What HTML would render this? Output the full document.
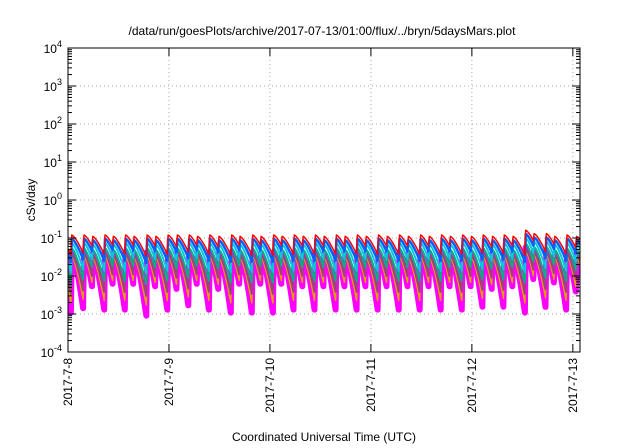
<!DOCTYPE html>
<html><head><meta charset="utf-8"><style>
html,body{margin:0;padding:0;background:#fff;}
svg{display:block;font-family:"Liberation Sans",sans-serif;}
</style></head><body>
<svg id="chart" width="640" height="448" viewBox="0 0 640 448" xmlns="http://www.w3.org/2000/svg">
<text x="322" y="35" font-size="12" text-anchor="middle">/data/run/goesPlots/archive/2017-07-13/01:00/flux/../bryn/5daysMars.plot</text>
<text x="324" y="441" font-size="12" text-anchor="middle">Coordinated Universal Time (UTC)</text>
<text transform="translate(35,200) rotate(-90)" font-size="12" text-anchor="middle">cSv/day</text>
<g id="grid"></g>
<g id="series"></g>
<g id="axes"></g>
</svg>
<script>
const yTickExps = [-4,-3,-2,-1,0,1,2,3,4];
const xTickLabels = ["2017-7-8","2017-7-9","2017-7-10","2017-7-11","2017-7-12","2017-7-13"];
const xTickHours = [0,24,48,72,96,120];
const peakHours = [-2.1,0.9,3.8,5.9,8.8,10.8,13.7,15.7,18.8,20.9,23.8,26.0,28.8,30.8,33.7,35.9,38.9,40.9,43.9,45.9,48.9,50.9,53.8,55.9,58.8,60.9,63.8,65.9,68.8,70.9,73.8,75.9,78.8,80.9,83.8,85.9,88.8,90.9,93.8,95.9,98.7,100.9,103.7,105.8,108.8,110.8,113.7,115.7,118.6,120.9];
const redPeaks = [0.11,0.12,0.12,0.11,0.12,0.11,0.12,0.11,0.12,0.11,0.12,0.12,0.12,0.11,0.12,0.11,0.12,0.11,0.12,0.11,0.12,0.11,0.12,0.11,0.12,0.11,0.12,0.11,0.12,0.11,0.12,0.11,0.12,0.11,0.12,0.11,0.12,0.11,0.12,0.11,0.12,0.11,0.12,0.11,0.16,0.13,0.13,0.11,0.12,0.11];
const seriesNames = ["red","blue","cyan","green","purple","orange","magenta"];
const seriesColors = ["#ff0000","#0060ff","#00c8e0","#00b080","#a04080","#e0a000","#ff00ff"];
const seriesWidths = [1.5,2.5,2,2,2,1.5,6];
const seriesScale = [1.0,0.8,0.62,0.45,0.33,0.28,0.36];
const seriesDecay = [0.27,0.31,0.40,0.47,0.56,0.65,0.85];
const yMin=-4,yMax=4,tMin=0,tMax=121.7;
const L=68,R=580,T=48,B=352;
const NS="http://www.w3.org/2000/svg";
function xs(h){return L+(h-tMin)/(tMax-tMin)*(R-L);}
function ys(v){return B-(Math.log10(v)-yMin)/(yMax-yMin)*(B-T);}
function mk(tag,attrs,parent){const e=document.createElementNS(NS,tag);for(const k in attrs)e.setAttribute(k,attrs[k]);parent.appendChild(e);return e;}
const grid=document.getElementById('grid'),axes=document.getElementById('axes'),sg=document.getElementById('series');
yTickExps.forEach(function(ex){
  const y=ys(Math.pow(10,ex));
  if(ex>yMin&&ex<yMax){const g=mk('line',{x1:L,x2:R,y1:y,y2:y,stroke:'#aaa','stroke-width':1,'stroke-dasharray':'1,3'},grid);
  
  }
  const t1=mk('line',{x1:L,x2:L+8,y1:y,y2:y,stroke:'#000'},axes);
  
  
  const t2=mk('line',{x1:R-8,x2:R,y1:y,y2:y,stroke:'#000'},axes);
  
  
  if(ex<yMax){for(let m=2;m<10;m++){const ym=ys(m*Math.pow(10,ex));
    mk('line',{x1:L,x2:L+4,y1:ym,y2:ym,stroke:'#000'},axes);
    mk('line',{x1:R-4,x2:R,y1:ym,y2:ym,stroke:'#000'},axes);}}
  const tx=mk('text',{x:L-6,y:y+5,'font-size':12,'text-anchor':'end'},axes);
  
  
  const base=mk('tspan',{},tx);
  base.textContent='10';
  const sp=mk('tspan',{'font-size':9,dy:-6},tx);
  
  
  sp.textContent=String(ex);
});
xTickHours.forEach(function(h,i){
  const x=xs(h);
  if(h>tMin){const g=mk('line',{x1:x,x2:x,y1:T,y2:B,stroke:'#aaa','stroke-width':1,'stroke-dasharray':'1,3'},grid);
  
  }
  mk('line',{x1:x,x2:x,y1:B,y2:B-8,stroke:'#000'},axes);
  mk('line',{x1:x,x2:x,y1:T,y2:T+8,stroke:'#000'},axes);
  const tx=mk('text',{transform:'translate('+(x+4)+','+(B+6)+') rotate(-90)','font-size':12,'text-anchor':'end'},axes);
  
  
  tx.textContent=xTickLabels[i];
});
const frame=mk('rect',{x:L,y:T,width:R-L,height:B-T,fill:'none',stroke:'#000','stroke-width':1},axes);


const clip=mk('clipPath',{id:'pc'},document.getElementById('chart'));
mk('rect',{x:L,y:T,width:R-L,height:B-T},clip);
sg.setAttribute('clip-path','url(#pc)');
for(let s=seriesNames.length-1;s>=0;s--){
  let d='';
  for(let i=0;i<peakHours.length;i++){
    const p=redPeaks[i]*seriesScale[s];
    const t0=peakHours[i];
    const t1=(i+1<peakHours.length?peakHours[i+1]:tMax+1)-0.2;
    for(let k=0;k<=8;k++){
      const t=t0+(t1-t0)*k/8;
      const v=p*Math.exp(-seriesDecay[s]*Math.pow(t-t0,1.4));
      d+=((i===0&&k===0)?'M':'L')+xs(t).toFixed(1)+','+ys(v).toFixed(1);
    }
  }
  const path=mk('path',{d:d,fill:'none',stroke:seriesColors[s],'stroke-width':seriesWidths[s],'stroke-linejoin':'round'},sg);
  
  
}
</script>
</body></html>
